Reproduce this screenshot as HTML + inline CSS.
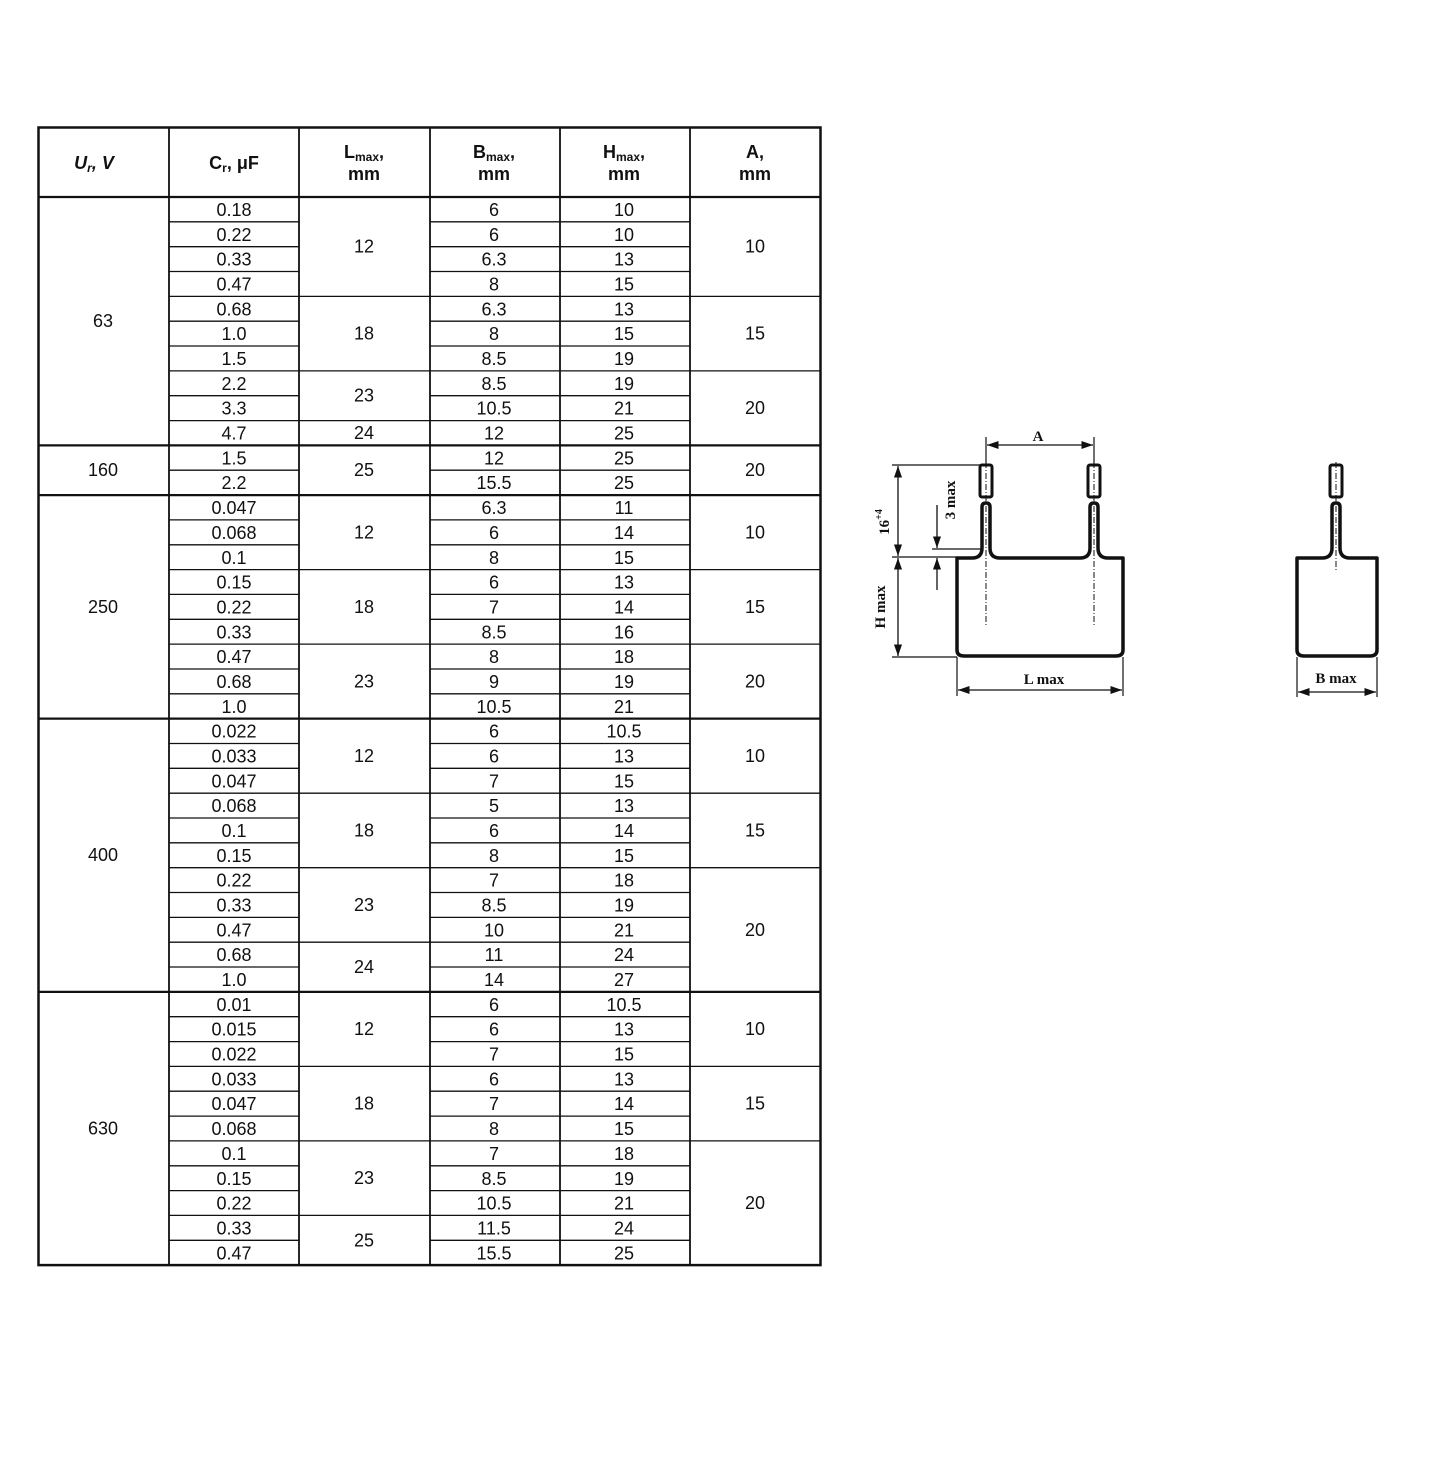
<!DOCTYPE html>
<html><head><meta charset="utf-8"><style>
html,body{margin:0;padding:0;background:#fff;}
svg{display:block;}
.t text{font-family:"Liberation Sans",Arial,sans-serif;font-size:18px;text-anchor:middle;fill:#111;}
.d text{font-family:"Liberation Serif",serif;font-weight:bold;font-size:15px;fill:#111;text-anchor:middle;}
</style></head><body>
<svg width="1445" height="1483" viewBox="0 0 1445 1483" xmlns="http://www.w3.org/2000/svg">
<defs>
<marker id="ar" viewBox="0 0 10 10" refX="10" refY="5" markerWidth="9" markerHeight="9" orient="auto-start-reverse"><path d="M0,1.5 L10,5 L0,8.5 z" fill="#111"/></marker>
</defs>
<g stroke="#111" fill="none">
<rect x="38.5" y="127.5" width="782" height="1137.6" stroke-width="2.5"/>
<path d="M38 197 H821 M38 445.4 H821 M38 495.1 H821 M38 718.6 H821 M38 991.9 H821" stroke-width="2.2"/>
<path d="M169 127 V1265 M299 127 V1265 M430 127 V1265 M560 127 V1265 M690 127 V1265" stroke-width="1.8"/>
<path stroke-width="1.3" d="M169 221.8H299M169 246.7H299M169 271.5H299M169 296.4H299M169 321.2H299M169 346H299M169 370.9H299M169 395.7H299M169 420.6H299M169 470.2H299M169 519.9H299M169 544.8H299M169 569.6H299M169 594.4H299M169 619.3H299M169 644.1H299M169 669H299M169 693.8H299M169 743.5H299M169 768.3H299M169 793.2H299M169 818H299M169 842.8H299M169 867.7H299M169 892.5H299M169 917.4H299M169 942.2H299M169 967H299M169 1016.7H299M169 1041.6H299M169 1066.4H299M169 1091.2H299M169 1116.1H299M169 1140.9H299M169 1165.8H299M169 1190.6H299M169 1215.4H299M169 1240.3H299"/>
<path stroke-width="1.3" d="M430 221.8H690M430 246.7H690M430 271.5H690M430 296.4H690M430 321.2H690M430 346H690M430 370.9H690M430 395.7H690M430 420.6H690M430 470.2H690M430 519.9H690M430 544.8H690M430 569.6H690M430 594.4H690M430 619.3H690M430 644.1H690M430 669H690M430 693.8H690M430 743.5H690M430 768.3H690M430 793.2H690M430 818H690M430 842.8H690M430 867.7H690M430 892.5H690M430 917.4H690M430 942.2H690M430 967H690M430 1016.7H690M430 1041.6H690M430 1066.4H690M430 1091.2H690M430 1116.1H690M430 1140.9H690M430 1165.8H690M430 1190.6H690M430 1215.4H690M430 1240.3H690"/>
<path stroke-width="1.3" d="M299 296.4H430M299 370.9H430M299 420.6H430M299 569.6H430M299 644.1H430M299 793.2H430M299 867.7H430M299 942.2H430M299 1066.4H430M299 1140.9H430M299 1215.4H430"/>
<path stroke-width="1.3" d="M690 296.4H821M690 370.9H821M690 569.6H821M690 644.1H821M690 793.2H821M690 867.7H821M690 1066.4H821M690 1140.9H821"/>
</g>
<g class="t">
<text x="94" y="169" font-weight="bold" font-style="italic">U<tspan font-size="12" dy="3">r</tspan><tspan dy="-3">, V</tspan></text>
<text x="234" y="169" font-weight="bold">C<tspan font-size="12" dy="3">r</tspan><tspan dy="-3">, μF</tspan></text>
<text x="364" y="158" font-weight="bold">L<tspan font-size="12" dy="3">max</tspan><tspan dy="-3">,</tspan></text><text x="364" y="180" font-weight="bold">mm</text>
<text x="494" y="158" font-weight="bold">B<tspan font-size="12" dy="3">max</tspan><tspan dy="-3">,</tspan></text><text x="494" y="180" font-weight="bold">mm</text>
<text x="624" y="158" font-weight="bold">H<tspan font-size="12" dy="3">max</tspan><tspan dy="-3">,</tspan></text><text x="624" y="180" font-weight="bold">mm</text>
<text x="755" y="158" font-weight="bold">A,</text><text x="755" y="180" font-weight="bold">mm</text>

<text x="103" y="327.2">63</text><text x="103" y="476.2">160</text><text x="103" y="612.8">250</text><text x="103" y="861.2">400</text><text x="103" y="1134.5">630</text>

<text x="364" y="252.7">12</text><text x="364" y="339.6">18</text><text x="364" y="401.7">23</text><text x="364" y="439">24</text>
<text x="364" y="476.2">25</text>
<text x="364" y="538.3">12</text><text x="364" y="612.8">18</text><text x="364" y="687.3">23</text>
<text x="364" y="761.9">12</text><text x="364" y="836.4">18</text><text x="364" y="911">23</text><text x="364" y="973">24</text>
<text x="364" y="1035.1">12</text><text x="364" y="1109.6">18</text><text x="364" y="1184.2">23</text><text x="364" y="1246.3">25</text>

<text x="755" y="252.7">10</text><text x="755" y="339.6">15</text><text x="755" y="414.1">20</text>
<text x="755" y="476.2">20</text>
<text x="755" y="538.3">10</text><text x="755" y="612.8">15</text><text x="755" y="687.3">20</text>
<text x="755" y="761.9">10</text><text x="755" y="836.4">15</text><text x="755" y="935.8">20</text>
<text x="755" y="1035.1">10</text><text x="755" y="1109.6">15</text><text x="755" y="1209">20</text>

<text x="234" y="216">0.18</text><text x="494" y="216">6</text><text x="624" y="216">10</text>
<text x="234" y="240.8">0.22</text><text x="494" y="240.8">6</text><text x="624" y="240.8">10</text>
<text x="234" y="265.7">0.33</text><text x="494" y="265.7">6.3</text><text x="624" y="265.7">13</text>
<text x="234" y="290.5">0.47</text><text x="494" y="290.5">8</text><text x="624" y="290.5">15</text>
<text x="234" y="315.4">0.68</text><text x="494" y="315.4">6.3</text><text x="624" y="315.4">13</text>
<text x="234" y="340.2">1.0</text><text x="494" y="340.2">8</text><text x="624" y="340.2">15</text>
<text x="234" y="365">1.5</text><text x="494" y="365">8.5</text><text x="624" y="365">19</text>
<text x="234" y="389.9">2.2</text><text x="494" y="389.9">8.5</text><text x="624" y="389.9">19</text>
<text x="234" y="414.7">3.3</text><text x="494" y="414.7">10.5</text><text x="624" y="414.7">21</text>
<text x="234" y="439.6">4.7</text><text x="494" y="439.6">12</text><text x="624" y="439.6">25</text>
<text x="234" y="464.4">1.5</text><text x="494" y="464.4">12</text><text x="624" y="464.4">25</text>
<text x="234" y="489.2">2.2</text><text x="494" y="489.2">15.5</text><text x="624" y="489.2">25</text>
<text x="234" y="514.1">0.047</text><text x="494" y="514.1">6.3</text><text x="624" y="514.1">11</text>
<text x="234" y="538.9">0.068</text><text x="494" y="538.9">6</text><text x="624" y="538.9">14</text>
<text x="234" y="563.8">0.1</text><text x="494" y="563.8">8</text><text x="624" y="563.8">15</text>
<text x="234" y="588.6">0.15</text><text x="494" y="588.6">6</text><text x="624" y="588.6">13</text>
<text x="234" y="613.4">0.22</text><text x="494" y="613.4">7</text><text x="624" y="613.4">14</text>
<text x="234" y="638.3">0.33</text><text x="494" y="638.3">8.5</text><text x="624" y="638.3">16</text>
<text x="234" y="663.1">0.47</text><text x="494" y="663.1">8</text><text x="624" y="663.1">18</text>
<text x="234" y="688">0.68</text><text x="494" y="688">9</text><text x="624" y="688">19</text>
<text x="234" y="712.8">1.0</text><text x="494" y="712.8">10.5</text><text x="624" y="712.8">21</text>
<text x="234" y="737.6">0.022</text><text x="494" y="737.6">6</text><text x="624" y="737.6">10.5</text>
<text x="234" y="762.5">0.033</text><text x="494" y="762.5">6</text><text x="624" y="762.5">13</text>
<text x="234" y="787.3">0.047</text><text x="494" y="787.3">7</text><text x="624" y="787.3">15</text>
<text x="234" y="812.2">0.068</text><text x="494" y="812.2">5</text><text x="624" y="812.2">13</text>
<text x="234" y="837">0.1</text><text x="494" y="837">6</text><text x="624" y="837">14</text>
<text x="234" y="861.8">0.15</text><text x="494" y="861.8">8</text><text x="624" y="861.8">15</text>
<text x="234" y="886.7">0.22</text><text x="494" y="886.7">7</text><text x="624" y="886.7">18</text>
<text x="234" y="911.5">0.33</text><text x="494" y="911.5">8.5</text><text x="624" y="911.5">19</text>
<text x="234" y="936.4">0.47</text><text x="494" y="936.4">10</text><text x="624" y="936.4">21</text>
<text x="234" y="961.2">0.68</text><text x="494" y="961.2">11</text><text x="624" y="961.2">24</text>
<text x="234" y="986">1.0</text><text x="494" y="986">14</text><text x="624" y="986">27</text>
<text x="234" y="1010.9">0.01</text><text x="494" y="1010.9">6</text><text x="624" y="1010.9">10.5</text>
<text x="234" y="1035.7">0.015</text><text x="494" y="1035.7">6</text><text x="624" y="1035.7">13</text>
<text x="234" y="1060.6">0.022</text><text x="494" y="1060.6">7</text><text x="624" y="1060.6">15</text>
<text x="234" y="1085.4">0.033</text><text x="494" y="1085.4">6</text><text x="624" y="1085.4">13</text>
<text x="234" y="1110.2">0.047</text><text x="494" y="1110.2">7</text><text x="624" y="1110.2">14</text>
<text x="234" y="1135.1">0.068</text><text x="494" y="1135.1">8</text><text x="624" y="1135.1">15</text>
<text x="234" y="1159.9">0.1</text><text x="494" y="1159.9">7</text><text x="624" y="1159.9">18</text>
<text x="234" y="1184.8">0.15</text><text x="494" y="1184.8">8.5</text><text x="624" y="1184.8">19</text>
<text x="234" y="1209.6">0.22</text><text x="494" y="1209.6">10.5</text><text x="624" y="1209.6">21</text>
<text x="234" y="1234.4">0.33</text><text x="494" y="1234.4">11.5</text><text x="624" y="1234.4">24</text>
<text x="234" y="1259.3">0.47</text><text x="494" y="1259.3">15.5</text><text x="624" y="1259.3">25</text>
</g>

<g class="d">
<g stroke="#111" fill="none">
<path stroke-width="3.5" stroke-linejoin="round" d="M957 650 V558 H972 Q982 558 982 548 V507 Q982 503 986 503 Q990 503 990 507 V548 Q990 558 1000 558 H1080 Q1090 558 1090 548 V507 Q1090 503 1094 503 Q1098 503 1098 507 V548 Q1098 558 1108 558 H1123 V650 Q1123 656 1116 656 H964 Q957 656 957 650 Z"/>
<rect x="980" y="465" width="12" height="32" rx="2" stroke-width="3"/>
<rect x="1088" y="465" width="12" height="32" rx="2" stroke-width="3"/>
<path stroke-width="1" stroke-dasharray="6,2,1,2" d="M986 462 V625 M1094 462 V625"/>
<path stroke-width="3.5" stroke-linejoin="round" d="M1297 650 V558 H1322 Q1332 558 1332 548 V507 Q1332 503 1336 503 Q1340 503 1340 507 V548 Q1340 558 1350 558 H1377 V650 Q1377 656 1370 656 H1304 Q1297 656 1297 650 Z"/>
<rect x="1330" y="465" width="12" height="32" rx="2" stroke-width="3"/>
<path stroke-width="1" stroke-dasharray="6,2,1,2" d="M1336 462 V570"/>
<path stroke-width="1.2" d="M986 437 V465 M1094 437 V465 M892 465 H980 M892 557 H957 M892 657 H957 M932 549 H982 M957 657 V696 M1123 657 V696 M1297 657 V697 M1377 657 V697"/>
<path stroke-width="1.3" marker-start="url(#ar)" marker-end="url(#ar)" d="M987 445 H1093"/>
<path stroke-width="1.3" marker-start="url(#ar)" marker-end="url(#ar)" d="M898 466 V556"/>
<path stroke-width="1.3" marker-start="url(#ar)" marker-end="url(#ar)" d="M898 558 V656"/>
<path stroke-width="1.3" marker-start="url(#ar)" marker-end="url(#ar)" d="M958 690 H1122"/>
<path stroke-width="1.3" marker-start="url(#ar)" marker-end="url(#ar)" d="M1298 692 H1376"/>
<path stroke-width="1.3" marker-end="url(#ar)" d="M937 505 V548"/>
<path stroke-width="1.3" marker-end="url(#ar)" d="M937 590 V558"/>
</g>
<text x="1038" y="441">A</text>
<text x="1044" y="684">L max</text>
<text x="1336" y="683">B max</text>
<text transform="translate(889,522) rotate(-90)">16<tspan font-size="10" dy="-7">+4</tspan></text>
<text transform="translate(885,607) rotate(-90)">H max</text>
<text transform="translate(955,500) rotate(-90)">3 max</text>
</g>
</svg>
</body></html>
